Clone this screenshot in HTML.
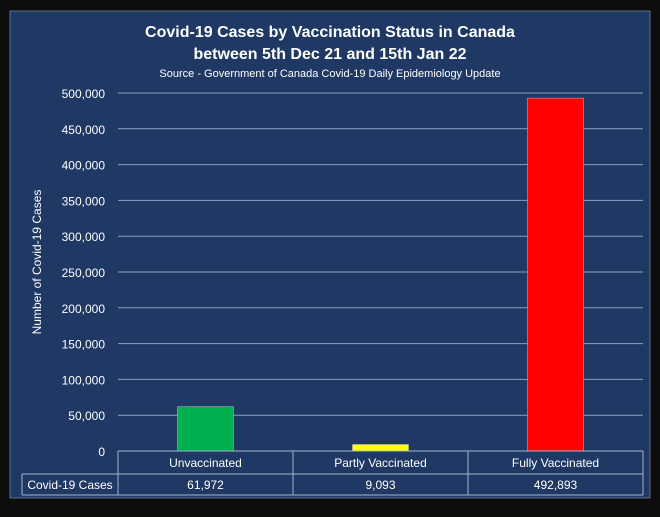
<!DOCTYPE html>
<html><head><meta charset="utf-8"><style>
body{margin:0;background:#0d0d0d;width:660px;height:512px;overflow:hidden;font-family:"Liberation Sans",sans-serif}
svg text{fill:#fff;font-family:"Liberation Sans",sans-serif}
</style></head><body>
<svg width="660" height="512">
<rect x="10" y="11" width="640" height="487" fill="#1f3864" stroke="#8ea0c0" stroke-width="0.6"/>
<text x="330" y="37" text-anchor="middle" font-size="16" font-weight="bold">Covid-19 Cases by Vaccination Status in Canada</text>
<text x="330" y="59" text-anchor="middle" font-size="16" font-weight="bold">between 5th Dec 21 and 15th Jan 22</text>
<text x="330" y="77" text-anchor="middle" font-size="11">Source - Government of Canada Covid-19 Daily Epidemiology Update</text>
<text transform="translate(41,262) rotate(-90)" text-anchor="middle" font-size="12">Number of Covid-19 Cases</text>
<g id="grid"></g><g id="bars"></g><g id="table"></g>
</svg>
<script>
const categories=["Unvaccinated","Partly Vaccinated","Fully Vaccinated"];
const values=[61972,9093,492893];
const valueLabels=["61,972","9,093","492,893"];
const colors=["#00b050","#ffff00","#ff0000"];
const ticks=[0,50000,100000,150000,200000,250000,300000,350000,400000,450000,500000];
const NS="http://www.w3.org/2000/svg";
const x0=118,x1=643,yB=451,yT=93,maxV=500000;
const y=v=>yB-(v/maxV)*(yB-yT);
const bw=(x1-x0)/categories.length;
function mk(t,a,p){const e=document.createElementNS(NS,t);for(const k in a)e.setAttribute(k,a[k]);p.appendChild(e);return e;}
const g=document.getElementById('grid'),b=document.getElementById('bars'),tb=document.getElementById('table');
ticks.forEach(v=>{
 if(v>0){const l=mk('line',{x1:x0,x2:x1,y1:y(v),y2:y(v),stroke:'#8ea0c0','stroke-width':1},g);
 
 }
 const t=mk('text',{x:105,y:y(v)+5,'text-anchor':'end','font-size':12},g);
 t.textContent=v.toLocaleString('en-US');
 
 
});
values.forEach((v,i)=>{
 const cx=x0+bw*(i+0.5);
 const r=mk('rect',{x:cx-28,y:y(v),width:56,height:yB-y(v),fill:colors[i],stroke:'#bfbfbf','stroke-width':0.5},b);
 
 
});
const st={stroke:'#a6b4cc','stroke-width':1,fill:'none'};
mk('line',Object.assign({x1:x0,x2:x1,y1:yB,y2:yB},st),tb);
mk('line',Object.assign({x1:22,x2:x1,y1:474,y2:474},st),tb);
mk('line',Object.assign({x1:22,x2:x1,y1:495,y2:495},st),tb);
mk('line',Object.assign({x1:22,x2:22,y1:474,y2:495},st),tb);
for(let i=0;i<=3;i++)mk('line',Object.assign({x1:x0+bw*i,x2:x0+bw*i,y1:yB,y2:495},st),tb);
const h=mk('text',{x:70,y:489,'text-anchor':'middle','font-size':12},tb);
h.textContent='Covid-19 Cases';


categories.forEach((c,i)=>{
 const cx=x0+bw*(i+0.5);
 const t=mk('text',{x:cx,y:467,'text-anchor':'middle','font-size':12},tb);
 t.textContent=c;
 
 
 const v=mk('text',{x:cx,y:489,'text-anchor':'middle','font-size':12},tb);
 v.textContent=valueLabels[i];
 
 
});
</script>
</body></html>
